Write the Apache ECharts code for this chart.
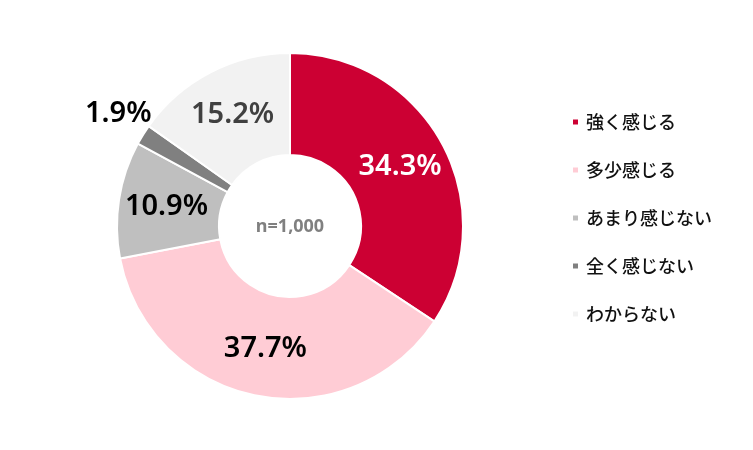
<!DOCTYPE html>
<html>
<head>
<meta charset="utf-8">
<script src="https://cdn.jsdelivr.net/npm/echarts@6/dist/echarts.min.js"></script>
<style>html,body{margin:0;padding:0;background:#fff;}#c{width:753px;height:450px;}</style>
</head>
<body>
<div id="c"></div>
<script>
var categories = ['強く感じる', '多少感じる', 'あまり感じない', '全く感じない', 'わからない'];
var values = [34.3, 37.7, 10.9, 1.9, 15.2];
var colors = ['#CC0033', '#FFCCD5', '#BFBFBF', '#808080', '#F2F2F2'];
var labelColors = ['#FFFFFF', '#000000', '#000000', '#000000', '#404040'];
var centerText = 'n=1,000';

var chart = echarts.init(document.getElementById('c'));
var data = categories.map(function (name, i) {
  var item = {
    name: name,
    value: values[i],
    itemStyle: { color: colors[i] },
    label: { color: labelColors[i] }
  };
  if (i === 3) {
    item.label.position = 'outside';
    item.labelLine = { show: false, length: 10, length2: 0 };
  }
  return item;
});

chart.setOption({
  animation: false,
  backgroundColor: '#ffffff',
  legend: {
    orient: 'vertical',
    left: 571,
    top: 113,
    padding: 0,
    itemWidth: 7,
    itemHeight: 7,
    itemGap: 30,
    icon: 'rect',
    textStyle: {
      fontFamily: '"Noto Sans CJK JP", sans-serif',
      fontSize: 18,
      fontWeight: 500,
      color: '#111111',
      padding: [0, 0, 0, 2]
    },
    data: categories
  },
  graphic: [{
    type: 'text',
    x: 290,
    y: 227,
    style: {
      text: centerText,
      align: 'center',
      verticalAlign: 'middle',
      fill: '#808080',
      font: 'bold 18px "Noto Sans", sans-serif'
    }
  }],
  series: [{
    type: 'pie',
    center: [290, 226],
    radius: [71, 173],
    startAngle: 90,
    clockwise: true,
    avoidLabelOverlap: false,
    itemStyle: { borderColor: '#ffffff', borderWidth: 2 },
    label: {
      show: true,
      position: 'inside',
      formatter: function (p) { return p.value.toFixed(1) + '%'; },
      fontSize: 29,
      fontWeight: 600,
      fontFamily: '"Noto Sans", sans-serif'
    },
    labelLine: { show: false },
    labelLayout: function (p) {
      if (p.dataIndex === 3) { return { dx: 22, dy: -16 }; }
    },
    emphasis: { disabled: true },
    data: data
  }]
});
</script>
</body>
</html>
